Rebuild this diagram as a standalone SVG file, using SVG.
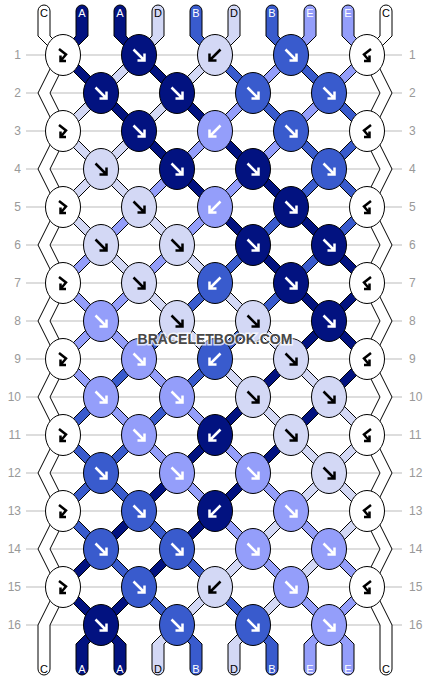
<svg xmlns="http://www.w3.org/2000/svg" xmlns:xlink="http://www.w3.org/1999/xlink" width="430" height="680" viewBox="0 0 430 680">
<style>
.rl{stroke:#bbbbbb;stroke-width:1}
.rn{font-family:"Liberation Sans",Arial,sans-serif;font-size:12px;fill:#999999}
.st{stroke:#000;stroke-width:1;stroke-linejoin:miter}
.cA{fill:#021280}.cB{fill:#395bcd}.cD{fill:#d3d8f5}.cE{fill:#949efa}.cW{fill:#ffffff}
.kn{stroke:#000;stroke-width:1}
.iw{fill:none;stroke:#fff;stroke-width:2.5}
.ik{fill:none;stroke:#000;stroke-width:2.5}
.lb{font-family:"Liberation Sans",Arial,sans-serif;font-size:11px;text-anchor:middle}
.lw{fill:#fff}.lk{fill:#000}
.wm{font-family:"Liberation Sans",Arial,sans-serif;font-size:14px;font-weight:bold;text-anchor:middle;fill:#484848;stroke:#fff;stroke-width:3;stroke-opacity:0.75;paint-order:stroke}
</style>
<defs>
<path id="af" d="M-5.5,-5.5 L5.5,5.5 M5.5,-1.5 V5.5 H-1.5"/>
<path id="ab" d="M5.5,-5.5 L-5.5,5.5 M-5.5,-1.5 V5.5 H1.5"/>
<path id="afb" d="M-4,-6 L3,-0.5 L-2.5,6 M-2.5,0.5 V6 H3"/>
<path id="abf" d="M4,-6 L-3,-0.5 L2.5,6 M2.5,0.5 V6 H-3"/>
</defs>
<rect width="430" height="680" fill="#fff"/>
<g id="rows">
<line class="rl" x1="26" y1="55" x2="402" y2="55"/><line class="rl" x1="26" y1="93" x2="402" y2="93"/>
<line class="rl" x1="26" y1="131" x2="402" y2="131"/><line class="rl" x1="26" y1="169" x2="402" y2="169"/>
<line class="rl" x1="26" y1="207" x2="402" y2="207"/><line class="rl" x1="26" y1="245" x2="402" y2="245"/>
<line class="rl" x1="26" y1="283" x2="402" y2="283"/><line class="rl" x1="26" y1="321" x2="402" y2="321"/>
<line class="rl" x1="26" y1="359" x2="402" y2="359"/><line class="rl" x1="26" y1="397" x2="402" y2="397"/>
<line class="rl" x1="26" y1="435" x2="402" y2="435"/><line class="rl" x1="26" y1="473" x2="402" y2="473"/>
<line class="rl" x1="26" y1="511" x2="402" y2="511"/><line class="rl" x1="26" y1="549" x2="402" y2="549"/>
<line class="rl" x1="26" y1="587" x2="402" y2="587"/><line class="rl" x1="26" y1="625" x2="402" y2="625"/>
<g class="rn" text-anchor="end">
<text x="21" y="59.3">1</text><text x="21" y="97.3">2</text><text x="21" y="135.3">3</text><text x="21" y="173.3">4</text>
<text x="21" y="211.3">5</text><text x="21" y="249.3">6</text><text x="21" y="287.3">7</text><text x="21" y="325.3">8</text>
<text x="21" y="363.3">9</text><text x="21" y="401.3">10</text><text x="21" y="439.3">11</text><text x="21" y="477.3">12</text>
<text x="21" y="515.3">13</text><text x="21" y="553.3">14</text><text x="21" y="591.3">15</text><text x="21" y="629.3">16</text>
</g>
<g class="rn">
<text x="409" y="59.3">1</text><text x="409" y="97.3">2</text><text x="409" y="135.3">3</text><text x="409" y="173.3">4</text>
<text x="409" y="211.3">5</text><text x="409" y="249.3">6</text><text x="409" y="287.3">7</text><text x="409" y="325.3">8</text>
<text x="409" y="363.3">9</text><text x="409" y="401.3">10</text><text x="409" y="439.3">11</text><text x="409" y="477.3">12</text>
<text x="409" y="515.3">13</text><text x="409" y="553.3">14</text><text x="409" y="591.3">15</text><text x="409" y="629.3">16</text>
</g>
</g>
<g id="connectors">
<path id="s-c1" class="st cW" d="M50,11 A6,6 0 0 0 38,11 L38,36 L57,55 L38,93 L57,131 L38,169 L57,207 L38,245 L57,283 L38,321 L57,359 L38,397 L57,435 L38,473 L57,511 L38,549 L57,587 L38,625 L38,669 A6,6 0 0 0 50,669 L50,625 L69,587 L50,549 L69,511 L50,473 L69,435 L50,397 L69,359 L50,321 L69,283 L50,245 L69,207 L50,169 L69,131 L50,93 L69,55 L50,36 Z"/>
<path id="s-c2" class="st cW" d="M392,11 A6,6 0 0 0 380,11 L380,36 L361,55 L380,93 L361,131 L380,169 L361,207 L380,245 L361,283 L380,321 L361,359 L380,397 L361,435 L380,473 L361,511 L380,549 L361,587 L380,625 L380,669 A6,6 0 0 0 392,669 L392,625 L373,587 L392,549 L373,511 L392,473 L373,435 L392,397 L373,359 L392,321 L373,283 L392,245 L373,207 L392,169 L373,131 L392,93 L373,55 L392,36 Z"/>
<path id="s-a1" class="st cA" d="M88,11 A6,6 0 0 0 76,11 L76,36 L57,55 L361,359 L76,644 L76,669 A6,6 0 0 0 88,669 L88,644 L373,359 L69,55 L88,36 Z"/>
<path id="s-a2" class="st cA" d="M126,11 A6,6 0 0 0 114,11 L114,36 L361,283 L57,587 L114,644 L114,669 A6,6 0 0 0 126,669 L126,644 L69,587 L373,283 L126,36 Z"/>
<path id="s-d1" class="st cD" d="M164,11 A6,6 0 0 0 152,11 L152,36 L57,131 L361,435 L152,644 L152,669 A6,6 0 0 0 164,669 L164,644 L373,435 L69,131 L164,36 Z"/>
<path id="s-b1" class="st cB" d="M202,11 A6,6 0 0 0 190,11 L190,36 L361,207 L57,511 L190,644 L190,669 A6,6 0 0 0 202,669 L202,644 L69,511 L373,207 L202,36 Z"/>
<path id="s-d2" class="st cD" d="M240,11 A6,6 0 0 0 228,11 L228,36 L57,207 L361,511 L228,644 L228,669 A6,6 0 0 0 240,669 L240,644 L373,511 L69,207 L240,36 Z"/>
<path id="s-b2" class="st cB" d="M278,11 A6,6 0 0 0 266,11 L266,36 L361,131 L57,435 L266,644 L266,669 A6,6 0 0 0 278,669 L278,644 L69,435 L373,131 L278,36 Z"/>
<path id="s-e1" class="st cE" d="M316,11 A6,6 0 0 0 304,11 L304,36 L57,283 L361,587 L304,644 L304,669 A6,6 0 0 0 316,669 L316,644 L373,587 L69,283 L316,36 Z"/>
<path id="s-e2" class="st cE" d="M354,11 A6,6 0 0 0 342,11 L342,36 L361,55 L57,359 L342,644 L342,669 A6,6 0 0 0 354,669 L354,644 L69,359 L373,55 L354,36 Z"/>
</g>
<g id="string-labels" class="lb">
<text class="lk" x="44" y="16.5">C</text><text class="lw" x="82" y="16.5">A</text><text class="lw" x="120" y="16.5">A</text><text class="lk" x="158" y="16.5">D</text><text class="lw" x="196" y="16.5">B</text>
<text class="lk" x="234" y="16.5">D</text><text class="lw" x="272" y="16.5">B</text><text class="lw" x="310" y="16.5">E</text><text class="lw" x="348" y="16.5">E</text><text class="lk" x="386" y="16.5">C</text>
<text class="lk" x="44" y="672.5">C</text><text class="lw" x="82" y="672.5">A</text><text class="lw" x="120" y="672.5">A</text><text class="lk" x="158" y="672.5">D</text><text class="lw" x="196" y="672.5">B</text>
<text class="lk" x="234" y="672.5">D</text><text class="lw" x="272" y="672.5">B</text><text class="lw" x="310" y="672.5">E</text><text class="lw" x="348" y="672.5">E</text><text class="lk" x="386" y="672.5">C</text>
</g>
<g id="knots">
<!-- row 1 -->
<g id="k1-1" transform="translate(63,55)"><ellipse class="kn cW" rx="17.5" ry="20.5"/><use href="#afb" class="ik"/></g>
<g id="k1-2" transform="translate(139,55)"><ellipse class="kn cA" rx="17.5" ry="20.5"/><use href="#af" class="iw"/></g>
<g id="k1-3" transform="translate(215,55)"><ellipse class="kn cD" rx="17.5" ry="20.5"/><use href="#ab" class="ik"/></g>
<g id="k1-4" transform="translate(291,55)"><ellipse class="kn cB" rx="17.5" ry="20.5"/><use href="#af" class="iw"/></g>
<g id="k1-5" transform="translate(367,55)"><ellipse class="kn cW" rx="17.5" ry="20.5"/><use href="#abf" class="ik"/></g>
<!-- row 2 -->
<g id="k2-1" transform="translate(101,93)"><ellipse class="kn cA" rx="17.5" ry="20.5"/><use href="#af" class="iw"/></g>
<g id="k2-2" transform="translate(177,93)"><ellipse class="kn cA" rx="17.5" ry="20.5"/><use href="#af" class="iw"/></g>
<g id="k2-3" transform="translate(253,93)"><ellipse class="kn cB" rx="17.5" ry="20.5"/><use href="#af" class="iw"/></g>
<g id="k2-4" transform="translate(329,93)"><ellipse class="kn cB" rx="17.5" ry="20.5"/><use href="#af" class="iw"/></g>
<!-- row 3 -->
<g id="k3-1" transform="translate(63,131)"><ellipse class="kn cW" rx="17.5" ry="20.5"/><use href="#afb" class="ik"/></g>
<g id="k3-2" transform="translate(139,131)"><ellipse class="kn cA" rx="17.5" ry="20.5"/><use href="#af" class="iw"/></g>
<g id="k3-3" transform="translate(215,131)"><ellipse class="kn cE" rx="17.5" ry="20.5"/><use href="#ab" class="iw"/></g>
<g id="k3-4" transform="translate(291,131)"><ellipse class="kn cB" rx="17.5" ry="20.5"/><use href="#af" class="iw"/></g>
<g id="k3-5" transform="translate(367,131)"><ellipse class="kn cW" rx="17.5" ry="20.5"/><use href="#abf" class="ik"/></g>
<!-- row 4 -->
<g id="k4-1" transform="translate(101,169)"><ellipse class="kn cD" rx="17.5" ry="20.5"/><use href="#af" class="ik"/></g>
<g id="k4-2" transform="translate(177,169)"><ellipse class="kn cA" rx="17.5" ry="20.5"/><use href="#af" class="iw"/></g>
<g id="k4-3" transform="translate(253,169)"><ellipse class="kn cA" rx="17.5" ry="20.5"/><use href="#af" class="iw"/></g>
<g id="k4-4" transform="translate(329,169)"><ellipse class="kn cB" rx="17.5" ry="20.5"/><use href="#af" class="iw"/></g>
<!-- row 5 -->
<g id="k5-1" transform="translate(63,207)"><ellipse class="kn cW" rx="17.5" ry="20.5"/><use href="#afb" class="ik"/></g>
<g id="k5-2" transform="translate(139,207)"><ellipse class="kn cD" rx="17.5" ry="20.5"/><use href="#af" class="ik"/></g>
<g id="k5-3" transform="translate(215,207)"><ellipse class="kn cE" rx="17.5" ry="20.5"/><use href="#ab" class="iw"/></g>
<g id="k5-4" transform="translate(291,207)"><ellipse class="kn cA" rx="17.5" ry="20.5"/><use href="#af" class="iw"/></g>
<g id="k5-5" transform="translate(367,207)"><ellipse class="kn cW" rx="17.5" ry="20.5"/><use href="#abf" class="ik"/></g>
<!-- row 6 -->
<g id="k6-1" transform="translate(101,245)"><ellipse class="kn cD" rx="17.5" ry="20.5"/><use href="#af" class="ik"/></g>
<g id="k6-2" transform="translate(177,245)"><ellipse class="kn cD" rx="17.5" ry="20.5"/><use href="#af" class="ik"/></g>
<g id="k6-3" transform="translate(253,245)"><ellipse class="kn cA" rx="17.5" ry="20.5"/><use href="#af" class="iw"/></g>
<g id="k6-4" transform="translate(329,245)"><ellipse class="kn cA" rx="17.5" ry="20.5"/><use href="#af" class="iw"/></g>
<!-- row 7 -->
<g id="k7-1" transform="translate(63,283)"><ellipse class="kn cW" rx="17.5" ry="20.5"/><use href="#afb" class="ik"/></g>
<g id="k7-2" transform="translate(139,283)"><ellipse class="kn cD" rx="17.5" ry="20.5"/><use href="#af" class="ik"/></g>
<g id="k7-3" transform="translate(215,283)"><ellipse class="kn cB" rx="17.5" ry="20.5"/><use href="#ab" class="iw"/></g>
<g id="k7-4" transform="translate(291,283)"><ellipse class="kn cA" rx="17.5" ry="20.5"/><use href="#af" class="iw"/></g>
<g id="k7-5" transform="translate(367,283)"><ellipse class="kn cW" rx="17.5" ry="20.5"/><use href="#abf" class="ik"/></g>
<!-- row 8 -->
<g id="k8-1" transform="translate(101,321)"><ellipse class="kn cE" rx="17.5" ry="20.5"/><use href="#af" class="iw"/></g>
<g id="k8-2" transform="translate(177,321)"><ellipse class="kn cD" rx="17.5" ry="20.5"/><use href="#af" class="ik"/></g>
<g id="k8-3" transform="translate(253,321)"><ellipse class="kn cD" rx="17.5" ry="20.5"/><use href="#af" class="ik"/></g>
<g id="k8-4" transform="translate(329,321)"><ellipse class="kn cA" rx="17.5" ry="20.5"/><use href="#af" class="iw"/></g>
<!-- row 9 -->
<g id="k9-1" transform="translate(63,359)"><ellipse class="kn cW" rx="17.5" ry="20.5"/><use href="#afb" class="ik"/></g>
<g id="k9-2" transform="translate(139,359)"><ellipse class="kn cE" rx="17.5" ry="20.5"/><use href="#af" class="iw"/></g>
<g id="k9-3" transform="translate(215,359)"><ellipse class="kn cB" rx="17.5" ry="20.5"/><use href="#ab" class="iw"/></g>
<g id="k9-4" transform="translate(291,359)"><ellipse class="kn cD" rx="17.5" ry="20.5"/><use href="#af" class="ik"/></g>
<g id="k9-5" transform="translate(367,359)"><ellipse class="kn cW" rx="17.5" ry="20.5"/><use href="#abf" class="ik"/></g>
<!-- row 10 -->
<g id="k10-1" transform="translate(101,397)"><ellipse class="kn cE" rx="17.5" ry="20.5"/><use href="#af" class="iw"/></g>
<g id="k10-2" transform="translate(177,397)"><ellipse class="kn cE" rx="17.5" ry="20.5"/><use href="#af" class="iw"/></g>
<g id="k10-3" transform="translate(253,397)"><ellipse class="kn cD" rx="17.5" ry="20.5"/><use href="#af" class="ik"/></g>
<g id="k10-4" transform="translate(329,397)"><ellipse class="kn cD" rx="17.5" ry="20.5"/><use href="#af" class="ik"/></g>
<!-- row 11 -->
<g id="k11-1" transform="translate(63,435)"><ellipse class="kn cW" rx="17.5" ry="20.5"/><use href="#afb" class="ik"/></g>
<g id="k11-2" transform="translate(139,435)"><ellipse class="kn cE" rx="17.5" ry="20.5"/><use href="#af" class="iw"/></g>
<g id="k11-3" transform="translate(215,435)"><ellipse class="kn cA" rx="17.5" ry="20.5"/><use href="#ab" class="iw"/></g>
<g id="k11-4" transform="translate(291,435)"><ellipse class="kn cD" rx="17.5" ry="20.5"/><use href="#af" class="ik"/></g>
<g id="k11-5" transform="translate(367,435)"><ellipse class="kn cW" rx="17.5" ry="20.5"/><use href="#abf" class="ik"/></g>
<!-- row 12 -->
<g id="k12-1" transform="translate(101,473)"><ellipse class="kn cB" rx="17.5" ry="20.5"/><use href="#af" class="iw"/></g>
<g id="k12-2" transform="translate(177,473)"><ellipse class="kn cE" rx="17.5" ry="20.5"/><use href="#af" class="iw"/></g>
<g id="k12-3" transform="translate(253,473)"><ellipse class="kn cE" rx="17.5" ry="20.5"/><use href="#af" class="iw"/></g>
<g id="k12-4" transform="translate(329,473)"><ellipse class="kn cD" rx="17.5" ry="20.5"/><use href="#af" class="ik"/></g>
<!-- row 13 -->
<g id="k13-1" transform="translate(63,511)"><ellipse class="kn cW" rx="17.5" ry="20.5"/><use href="#afb" class="ik"/></g>
<g id="k13-2" transform="translate(139,511)"><ellipse class="kn cB" rx="17.5" ry="20.5"/><use href="#af" class="iw"/></g>
<g id="k13-3" transform="translate(215,511)"><ellipse class="kn cA" rx="17.5" ry="20.5"/><use href="#ab" class="iw"/></g>
<g id="k13-4" transform="translate(291,511)"><ellipse class="kn cE" rx="17.5" ry="20.5"/><use href="#af" class="iw"/></g>
<g id="k13-5" transform="translate(367,511)"><ellipse class="kn cW" rx="17.5" ry="20.5"/><use href="#abf" class="ik"/></g>
<!-- row 14 -->
<g id="k14-1" transform="translate(101,549)"><ellipse class="kn cB" rx="17.5" ry="20.5"/><use href="#af" class="iw"/></g>
<g id="k14-2" transform="translate(177,549)"><ellipse class="kn cB" rx="17.5" ry="20.5"/><use href="#af" class="iw"/></g>
<g id="k14-3" transform="translate(253,549)"><ellipse class="kn cE" rx="17.5" ry="20.5"/><use href="#af" class="iw"/></g>
<g id="k14-4" transform="translate(329,549)"><ellipse class="kn cE" rx="17.5" ry="20.5"/><use href="#af" class="iw"/></g>
<!-- row 15 -->
<g id="k15-1" transform="translate(63,587)"><ellipse class="kn cW" rx="17.5" ry="20.5"/><use href="#afb" class="ik"/></g>
<g id="k15-2" transform="translate(139,587)"><ellipse class="kn cB" rx="17.5" ry="20.5"/><use href="#af" class="iw"/></g>
<g id="k15-3" transform="translate(215,587)"><ellipse class="kn cD" rx="17.5" ry="20.5"/><use href="#ab" class="ik"/></g>
<g id="k15-4" transform="translate(291,587)"><ellipse class="kn cE" rx="17.5" ry="20.5"/><use href="#af" class="iw"/></g>
<g id="k15-5" transform="translate(367,587)"><ellipse class="kn cW" rx="17.5" ry="20.5"/><use href="#abf" class="ik"/></g>
<!-- row 16 -->
<g id="k16-1" transform="translate(101,625)"><ellipse class="kn cA" rx="17.5" ry="20.5"/><use href="#af" class="iw"/></g>
<g id="k16-2" transform="translate(177,625)"><ellipse class="kn cB" rx="17.5" ry="20.5"/><use href="#af" class="iw"/></g>
<g id="k16-3" transform="translate(253,625)"><ellipse class="kn cB" rx="17.5" ry="20.5"/><use href="#af" class="iw"/></g>
<g id="k16-4" transform="translate(329,625)"><ellipse class="kn cE" rx="17.5" ry="20.5"/><use href="#af" class="iw"/></g>
</g>
<text id="watermark" class="wm" x="215" y="344">BRACELETBOOK.COM</text>
</svg>
